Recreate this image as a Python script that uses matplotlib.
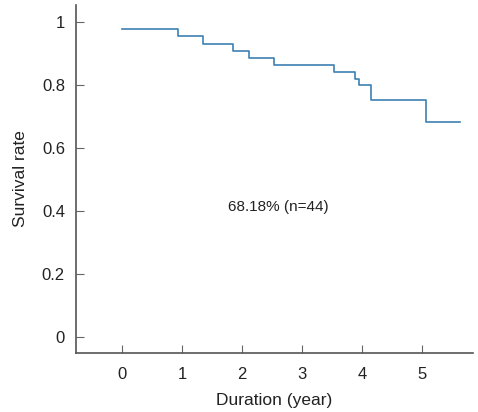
import matplotlib.pyplot as plt

plt.rcParams['font.family'] = ['Liberation Sans', 'DejaVu Sans']

# Kaplan-Meier steps
times = [0, 0.93, 1.35, 1.85, 2.11, 2.53, 3.53, 3.89, 3.95, 4.15, 5.07, 5.64]
survival = [0.977, 0.955, 0.932, 0.909, 0.886, 0.864, 0.841, 0.821, 0.800, 0.752, 0.6818, 0.6818]
x_ticks = [0, 1, 2, 3, 4, 5]
y_ticks = [0, 0.2, 0.4, 0.6, 0.8, 1]
y_labels = ['0', '0.2', '0.4', '0.6', '0.8', '1']

fig = plt.figure(figsize=(4.78, 4.12), dpi=100)
ax = fig.add_axes([0.159, 0.143, 0.831, 0.845])

ax.step(times, survival, where='post', color='#3d80b3', lw=1.2)
ax.text(2.6, 0.413, '68.18% (n=44)', ha='center', va='center', fontsize=11, color='#222222')

ax.set_xlim(-0.77, 5.86)
ax.set_ylim(-0.051, 1.055)
ax.set_xticks(x_ticks)
ax.set_yticks(y_ticks)
ax.set_yticklabels(y_labels)
ax.tick_params(direction='in', length=6, color='#666666', labelsize=12, labelcolor='#222222', pad=8)
ax.tick_params(axis='x', pad=10)

for side in ['top', 'right']:
    ax.spines[side].set_visible(False)
for side in ['left', 'bottom']:
    ax.spines[side].set_color('#555555')
    ax.spines[side].set_linewidth(1.2)

ax.set_xlabel('Duration (year)', fontsize=12.5, color='#222222', labelpad=8)
ax.set_ylabel('Survival rate', fontsize=12.5, color='#222222', labelpad=10)

fig.savefig('out.png', dpi=100)
